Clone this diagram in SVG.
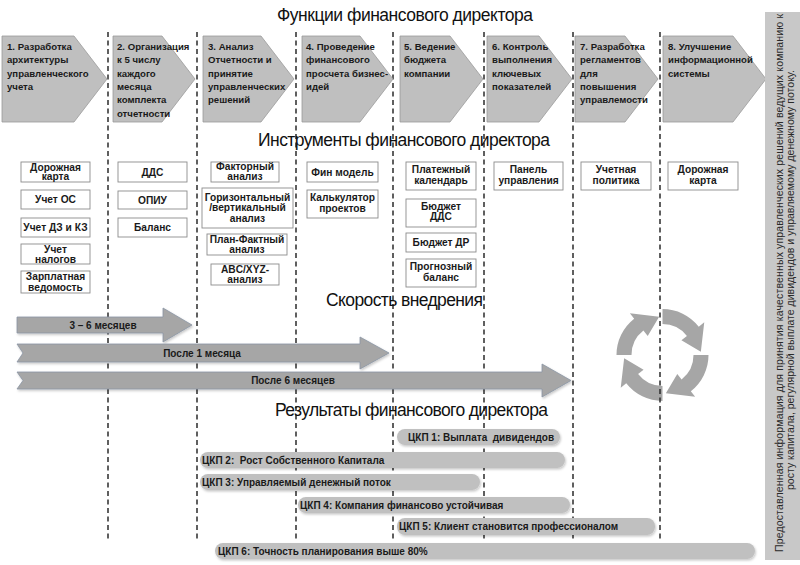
<svg xmlns="http://www.w3.org/2000/svg" xmlns:xlink="http://www.w3.org/1999/xlink" width="800" height="565" viewBox="0 0 800 565">
<defs>
<style>
.ttl{font-family:"Liberation Sans",Arial,sans-serif;font-size:17.5px;fill:#111111;text-anchor:middle}
.chev{fill:#bfbfbf;stroke:#9a9a9a;stroke-width:0.8}
.ct{font-family:"Liberation Sans",Arial,sans-serif;font-size:9.6px;font-weight:bold;fill:#1a1a1a}
.box{fill:#ffffff;stroke:#8c8c8c;stroke-width:0.9}
.bt{font-family:"Liberation Sans",Arial,sans-serif;font-size:10.2px;font-weight:bold;fill:#1a1a1a;text-anchor:middle}
.sep{stroke:#2b2b2b;stroke-width:1.5;stroke-dasharray:5 3.5;fill:none}
.arr{fill:#a6a6a6;stroke:#8a95a5;stroke-width:0.8}
.at{font-family:"Liberation Sans",Arial,sans-serif;font-size:10px;font-weight:bold;fill:#1a1a1a;text-anchor:middle}
.bar{fill:#c0c0c0}
.rt{font-family:"Liberation Sans",Arial,sans-serif;font-size:10px;font-weight:bold;fill:#1a1a1a}
.pt{font-family:"Liberation Sans",Arial,sans-serif;font-size:10.5px;fill:#2a2a2a;text-anchor:middle}
.cyc{fill:#a6a6a6}
</style>
<filter id="sh" x="-5%" y="-20%" width="110%" height="150%">
<feDropShadow dx="1" dy="1.5" stdDeviation="1" flood-color="#000" flood-opacity="0.22"/>
</filter>
<path id="cycArrow" d="M0,-46 A46,46 0 0 1 36.25,-28.32 L41.76,-32.63 L38.35,-3.36 L18.91,-14.78 L24.43,-19.09 A31,31 0 0 0 0,-31 Z"/>
</defs>
<rect width="800" height="565" fill="#ffffff"/>

<!-- cycle icon (under the dashed separator) -->
<g id="cycle" class="cyc">
<use xlink:href="#cycArrow" transform="translate(662.5,355)"/>
<use xlink:href="#cycArrow" transform="translate(662.5,355) rotate(90)"/>
<use xlink:href="#cycArrow" transform="translate(662.5,355) rotate(180)"/>
<use xlink:href="#cycArrow" transform="translate(662.5,355) rotate(270)"/>
</g>

<!-- separators -->
<g id="connectors">
<line class="sep" x1="108" y1="32" x2="108" y2="542"/>
<line class="sep" x1="197" y1="32" x2="197" y2="542"/>
<line class="sep" x1="296" y1="32" x2="296" y2="542"/>
<line class="sep" x1="393" y1="32" x2="393" y2="542"/>
<line class="sep" x1="484" y1="32" x2="484" y2="542"/>
<line class="sep" x1="573" y1="32" x2="573" y2="542"/>
<line class="sep" x1="660" y1="32" x2="660" y2="542"/>
</g>

<!-- titles -->
<text class="ttl" x="405" y="21" textLength="256">Функции финансового директора</text>
<text class="ttl" x="404" y="146" textLength="292">Инструменты финансового директора</text>
<text class="ttl" x="404.5" y="306" textLength="157">Скорость внедрения</text>
<text class="ttl" x="411.5" y="416" textLength="273">Результаты финансового директора</text>

<!-- chevrons -->
<g id="f1"><polygon class="chev" points="2,36 74,36 107,79 74,122 2,122"/>
<text class="ct" x="7" y="50">1. Разработка</text><text class="ct" x="7" y="63.3">архитектуры</text><text class="ct" x="7" y="76.6">управленческого</text><text class="ct" x="7" y="89.9">учета</text></g>
<g id="f2"><polygon class="chev" points="113,36 162,36 195,79 162,122 113,122"/>
<text class="ct" x="117" y="50">2. Организация</text><text class="ct" x="117" y="63.3">к 5 числу</text><text class="ct" x="117" y="76.6">каждого</text><text class="ct" x="117" y="89.9">месяца</text><text class="ct" x="117" y="103.2">комплекта</text><text class="ct" x="117" y="116.5">отчетности</text></g>
<g id="f3"><polygon class="chev" points="203,36 261,36 294,79 261,122 203,122"/>
<text class="ct" x="208" y="50">3. Анализ</text><text class="ct" x="208" y="63.3">Отчетности и</text><text class="ct" x="208" y="76.6">принятие</text><text class="ct" x="208" y="89.9">управленческих</text><text class="ct" x="208" y="103.2">решений</text></g>
<g id="f4"><polygon class="chev" points="302,36 360,36 393,79 360,122 302,122"/>
<text class="ct" x="306" y="50">4. Проведение</text><text class="ct" x="306" y="63.3">финансового</text><text class="ct" x="306" y="76.6">просчета бизнес-</text><text class="ct" x="306" y="89.9">идей</text></g>
<g id="f5"><polygon class="chev" points="400,36 450,36 483,79 450,122 400,122"/>
<text class="ct" x="404" y="50">5. Ведение</text><text class="ct" x="404" y="63.3">бюджета</text><text class="ct" x="404" y="76.6">компании</text></g>
<g id="f6"><polygon class="chev" points="487,36 539,36 572,79 539,122 487,122"/>
<text class="ct" x="492" y="50">6. Контроль</text><text class="ct" x="492" y="63.3">выполнения</text><text class="ct" x="492" y="76.6">ключевых</text><text class="ct" x="492" y="89.9">показателей</text></g>
<g id="f7"><polygon class="chev" points="575,36 625,36 658,79 625,122 575,122"/>
<text class="ct" x="580" y="50">7. Разработка</text><text class="ct" x="580" y="63.3">регламентов</text><text class="ct" x="580" y="76.6">для</text><text class="ct" x="580" y="89.9">повышения</text><text class="ct" x="580" y="103.2">управлемости</text></g>
<g id="f8"><polygon class="chev" points="663,36 733,36 766,79 733,122 663,122"/>
<text class="ct" x="668" y="50">8. Улучшение</text><text class="ct" x="668" y="63.3">информационной</text><text class="ct" x="668" y="76.6">системы</text></g>

<!-- tools column 1 -->
<g id="t1a"><rect class="box" x="21" y="162" width="69" height="20"/><text class="bt" x="55.5" y="170.5">Дорожная</text><text class="bt" x="55.5" y="180">карта</text></g>
<g id="t1b"><rect class="box" x="21" y="190" width="69" height="19"/><text class="bt" x="55.5" y="203">Учет ОС</text></g>
<g id="t1c"><rect class="box" x="21" y="218" width="69" height="19"/><text class="bt" x="55.5" y="231">Учет ДЗ и КЗ</text></g>
<g id="t1d"><rect class="box" x="21" y="244" width="69" height="20"/><text class="bt" x="55.5" y="252.5">Учет</text><text class="bt" x="55.5" y="262.5">налогов</text></g>
<g id="t1e"><rect class="box" x="21" y="271" width="69" height="22"/><text class="bt" x="55.5" y="280">Зарплатная</text><text class="bt" x="55.5" y="290.5">ведомость</text></g>
<!-- column 2 -->
<g id="t2a"><rect class="box" x="118" y="162" width="69" height="20"/><text class="bt" x="152.5" y="175.5">ДДС</text></g>
<g id="t2b"><rect class="box" x="118" y="191" width="69" height="18"/><text class="bt" x="152.5" y="203.5">ОПИУ</text></g>
<g id="t2c"><rect class="box" x="118" y="218" width="69" height="19"/><text class="bt" x="152.5" y="231">Баланс</text></g>
<!-- column 3 -->
<g id="t3a"><rect class="box" x="211" y="162" width="68" height="20"/><text class="bt" x="245" y="170">Факторный</text><text class="bt" x="245" y="180">анализ</text></g>
<g id="t3b"><rect class="box" x="202" y="188" width="91" height="40"/><text class="bt" x="247.5" y="201">Горизонтальный</text><text class="bt" x="247.5" y="211">/вертикальный</text><text class="bt" x="247.5" y="221.5">анализ</text></g>
<g id="t3c"><rect class="box" x="207" y="234" width="80" height="21"/><text class="bt" x="247" y="242.5">План-Фактный</text><text class="bt" x="247" y="253">анализ</text></g>
<g id="t3d"><rect class="box" x="211" y="264" width="68" height="21"/><text class="bt" x="245" y="272.5">ABC/XYZ-</text><text class="bt" x="245" y="282.5">анализ</text></g>
<!-- column 4 -->
<g id="t4a"><rect class="box" x="307" y="162" width="71" height="20"/><text class="bt" x="342.5" y="175.5">Фин модель</text></g>
<g id="t4b"><rect class="box" x="307" y="190" width="71" height="28"/><text class="bt" x="342.5" y="201">Калькулятор</text><text class="bt" x="342.5" y="212">проектов</text></g>
<!-- column 5 -->
<g id="t5a"><rect class="box" x="406" y="162" width="70" height="28"/><text class="bt" x="441" y="172.5">Платежный</text><text class="bt" x="441" y="183.5">календарь</text></g>
<g id="t5b"><rect class="box" x="406" y="199" width="70" height="28"/><text class="bt" x="441" y="210">Бюджет</text><text class="bt" x="441" y="220">ДДС</text></g>
<g id="t5c"><rect class="box" x="406" y="233" width="70" height="19"/><text class="bt" x="441" y="246">Бюджет ДР</text></g>
<g id="t5d"><rect class="box" x="406" y="259" width="70" height="28"/><text class="bt" x="441" y="270">Прогнозный</text><text class="bt" x="441" y="281">баланс</text></g>
<!-- columns 6-8 -->
<g id="t6a"><rect class="box" x="494" y="162" width="69" height="28"/><text class="bt" x="528.5" y="172.5">Панель</text><text class="bt" x="528.5" y="183.5">управления</text></g>
<g id="t7a"><rect class="box" x="581" y="162" width="70" height="28"/><text class="bt" x="616" y="172.5">Учетная</text><text class="bt" x="616" y="183.5">политика</text></g>
<g id="t8a"><rect class="box" x="668" y="162" width="70" height="28"/><text class="bt" x="703" y="172.5">Дорожная</text><text class="bt" x="703" y="183.5">карта</text></g>

<!-- speed arrows -->
<g id="s1"><polygon class="arr" filter="url(#sh)" points="17,317 163,317 163,308 192,325 163,342 163,333 17,333"/><text class="at" x="103" y="328.5">3 – 6 месяцев</text></g>
<g id="s2"><polygon class="arr" filter="url(#sh)" points="17,344 360,344 360,337 389,353 360,369 360,362 17,362 23,353"/><text class="at" x="202" y="356.5">После 1 месяца</text></g>
<g id="s3"><polygon class="arr" filter="url(#sh)" points="17,372 542,372 542,364 571,380.5 542,397 542,389 17,389 23,380.5"/><text class="at" x="293" y="384">После 6 месяцев</text></g>

<!-- results -->
<g id="r1"><rect class="bar" filter="url(#sh)" x="397" y="429" width="163" height="16" rx="8"/><text class="rt" x="408" y="440.5">ЦКП 1: Выплата&#160; дивидендов</text></g>
<g id="r2"><rect class="bar" filter="url(#sh)" x="200" y="452" width="365" height="16" rx="8"/><text class="rt" x="202" y="463.5">ЦКП 2:&#160; Рост Собственного Капитала</text></g>
<g id="r3"><rect class="bar" filter="url(#sh)" x="200" y="474" width="280" height="16" rx="8"/><text class="rt" x="202" y="485.5">ЦКП 3: Управляемый денежный поток</text></g>
<g id="r4"><rect class="bar" filter="url(#sh)" x="298" y="497" width="272" height="16" rx="8"/><text class="rt" x="300" y="508.5">ЦКП 4: Компания финансово устойчивая</text></g>
<g id="r5"><rect class="bar" filter="url(#sh)" x="397" y="518" width="258" height="17" rx="8"/><text class="rt" x="399" y="530">ЦКП 5: Клиент становится профессионалом</text></g>
<g id="r6"><rect class="bar" filter="url(#sh)" x="215" y="543" width="540" height="16" rx="8"/><text class="rt" x="218" y="554.5">ЦКП 6: Точность планирования выше 80%</text></g>

<!-- side panel -->
<g id="panel">
<rect x="765" y="12" width="35" height="548" fill="#c8c8c8"/>
<text class="pt" transform="translate(782.5,283) rotate(-90)" x="0" y="0" textLength="538">Предоставленная информация для принятия качественных управленческих решений ведущих компанию к</text>
<text class="pt" transform="translate(793.5,280) rotate(-90)" x="0" y="0" textLength="420">росту капитала, регулярной выплате дивидендов и управляемому денежному потоку.</text>
</g>
</svg>
